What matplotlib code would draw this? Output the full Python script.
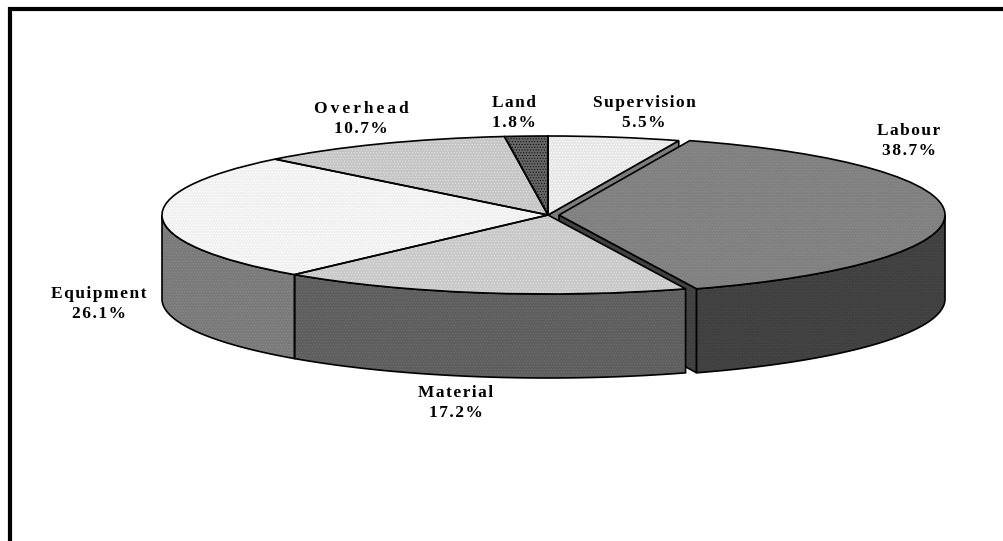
import matplotlib
matplotlib.use("Agg")
import numpy as np
from matplotlib import pyplot as plt
from matplotlib.patches import Polygon, Rectangle, Wedge

labels = ["Supervision", "Labour", "Material", "Equipment", "Overhead", "Land"]
values = [5.5, 38.7, 17.2, 26.1, 10.7, 1.8]
explode = [0, 0.0285, 0, 0, 0, 0]
top_colors = ["#e6e6e6", "#808080", "#c8c8c8", "#f0f0f0", "#c4c4c4", "#666666"]
top_dots = ["#ffffff", "#8c8c8c", "#e2e2e2", "#ffffff", "#e4e4e4", "#111111"]
wall_colors = ["#7a7a7a", "#404040", "#5e5e5e", "#7a7a7a", "#7a7a7a", "#7a7a7a"]
wall_dots = ["#8a8a8a", "#4a4a4a", "#6e6e6e", "#8a8a8a", "#8a8a8a", "#8a8a8a"]
label_px = [(644, 113), (909, 141), (456, 403), (99, 304), (361, 119), (514, 113)]
name_gaps = [1, 1, 1, 1, 2, 1]

W, H = 1004, 541
CX, CY, RX, RY, DEPTH = 548, 215, 386, 79, 84
d = DEPTH / RY

plt.rcParams["font.family"] = ["Liberation Serif", "DejaVu Serif"]
plt.rcParams["hatch.linewidth"] = 0.5
fig = plt.figure(figsize=(W / 100, H / 100), dpi=100)
ax = fig.add_axes([0, 0, 1, 1])
wedges, _ = ax.pie(values, explode=explode, colors=top_colors, startangle=90,
                   counterclock=False, radius=1,
                   wedgeprops=dict(linewidth=0, zorder=5))
ax.set_aspect("auto")
ax.set_xlim(-CX / RX, (W - CX) / RX)
ax.set_ylim(-(H - CY) / RY, CY / RY)

def rim(w, a):
    a = np.radians(a)
    return w.center[0] + w.r * np.cos(a), w.center[1] + w.r * np.sin(a)

def face(pts, fc, dot, z):
    # stippled fill first, black outline on top of it
    ax.add_patch(Polygon(pts, closed=True, fc=fc, ec=dot, lw=0, hatch="......", zorder=z))
    ax.add_patch(Polygon(pts, closed=True, fc="none", ec="black", lw=1.2, zorder=z + 0.1))

for w, dot in zip(wedges, top_dots):
    w.set_edgecolor(dot)
    w.set_hatch("......")
    ax.add_patch(Wedge(w.center, w.r, w.theta1, w.theta2, fc="none", ec="black", lw=1.2, zorder=6))

# outer walls, only the front half of each slice shows
for w, c, dot in zip(wedges, wall_colors, wall_dots):
    t1, t2 = w.theta1 % 360, w.theta2 % 360
    if t2 <= t1:
        t2 += 360
    lo, hi = max(t1, 180), min(t2, 360)
    if lo >= hi:
        continue
    a = np.radians(np.linspace(lo, hi, 80))
    x = w.center[0] + w.r * np.cos(a)
    y = w.center[1] + w.r * np.sin(a)
    face(np.r_[np.c_[x, y], np.c_[x, y - d][::-1]], c, dot, 3)

# cut faces seen through the gap round the pulled out slice
for i, z in ((0, 1), (1, 2)):
    w = wedges[i]
    x, y = rim(w, w.theta1)
    cx, cy = w.center
    face([(cx, cy), (x, y), (x, y - d), (cx, cy - d)], wall_colors[i], wall_dots[i], z)

# labels, letterspaced with hair spaces
for name, v, gap, (px, py) in zip(labels, values, name_gaps, label_px):
    txt = ("\u200a" * gap).join(name) + "\n" + "\u200a".join(f"{v}%")
    fig.text(px / W, 1 - py / H, txt, ha="center", va="center", fontsize=12.5,
             fontweight="bold", linespacing=1.3)

# frame runs off the right and bottom of the page
fig.add_artist(Rectangle((9.7 / W, -0.1), 1.2, 1 - 8.7 / H + 0.1, transform=fig.transFigure,
                         fill=False, ec="black", lw=3))

fig.savefig("out.png", dpi=100)
